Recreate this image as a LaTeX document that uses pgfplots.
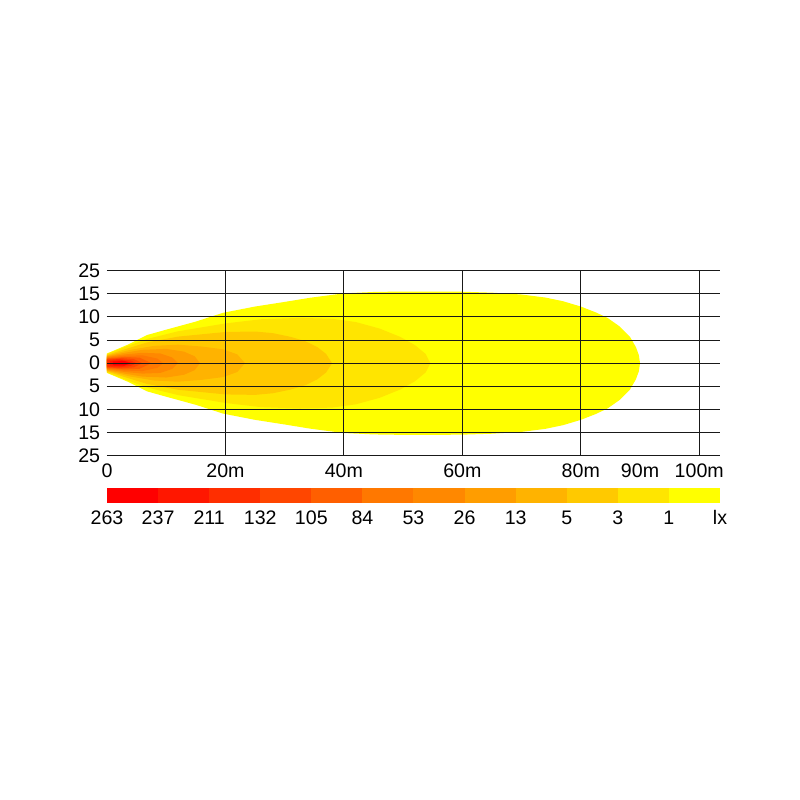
\documentclass[border=0pt]{standalone}
\usepackage{pgfplots}
\pgfplotsset{compat=1.18}
\usepackage{fontspec}
\setmainfont{Liberation Sans}
\definecolor{c1}{HTML}{FF0000}
\definecolor{c2}{HTML}{FF1700}
\definecolor{c3}{HTML}{FF2E00}
\definecolor{c4}{HTML}{FF4600}
\definecolor{c5}{HTML}{FF5F00}
\definecolor{c6}{HTML}{FF7800}
\definecolor{c7}{HTML}{FF8800}
\definecolor{c8}{HTML}{FF9D00}
\definecolor{c9}{HTML}{FFB300}
\definecolor{c10}{HTML}{FFC900}
\definecolor{c11}{HTML}{FFE500}
\definecolor{c12}{HTML}{FFFF00}
\begin{document}
\fontsize{9.8}{11}\selectfont
\begin{tikzpicture}
\path[use as bounding box] (-53.5pt,-172.15pt) rectangle (346.5pt,227.85pt);
\begin{axis}[
  at={(0,0)}, anchor=south west,
  scale only axis, width=306.5pt, height=92.5pt,
  xmin=0, xmax=103.5, ymin=-4, ymax=4,
  axis line style={draw=none},
  major tick length=0pt,
  xtick={20,40,60,80,100},
  xticklabels={20m,40m,60m,80m,100m},
  extra x ticks={0,90},
  extra x tick labels={0,90m},
  extra x tick style={grid=none},
  ytick={-4,...,4},
  yticklabels={25,15,10,5,0,5,10,15,25},
  xmajorgrids, ymajorgrids,
  grid style={black!90, line width=0.55pt},
  axis on top,
  tick label style={font=\fontsize{9.8}{11}\selectfont},
  xticklabel style={text height=7.2pt, text depth=0pt},
  /pgf/number format/assume math mode=true,
]
\addplot[fill=c12, draw=none] coordinates {(0,0.42)(3.5,0.8)(6.8,1.22)(10,1.45)(15,1.8)(19.6,2.18)(25,2.45)(30,2.65)(34.3,2.83)(40,3.02)(45,3.08)(50,3.1)(55,3.1)(60,3.09)(65,3.05)(70,2.97)(74,2.84)(77,2.68)(80,2.45)(82.5,2.2)(84.5,1.96)(86.5,1.6)(88.3,1.14)(89.3,0.7)(89.8,0.35)(90,0)(89.8,-0.35)(89.3,-0.7)(88.3,-1.14)(86.5,-1.6)(84.5,-1.96)(82.5,-2.2)(80,-2.45)(77,-2.68)(74,-2.84)(70,-2.97)(65,-3.05)(60,-3.09)(55,-3.1)(50,-3.1)(45,-3.08)(40,-3.02)(34.3,-2.83)(30,-2.65)(25,-2.45)(19.6,-2.18)(15,-1.8)(10,-1.45)(6.8,-1.22)(3.5,-0.8)(0,-0.42)} -- cycle;
\addplot[fill=c11, draw=none] coordinates {(0,0.4)(3,0.7)(6.8,1.05)(12,1.38)(20,1.72)(26,1.9)(32.6,1.96)(38,1.92)(42,1.78)(46,1.5)(49.5,1.14)(52,0.78)(53.8,0.4)(54.6,0)(53.8,-0.4)(52,-0.78)(49.5,-1.14)(46,-1.5)(42,-1.78)(38,-1.92)(32.6,-1.96)(26,-1.9)(20,-1.72)(12,-1.38)(6.8,-1.05)(3,-0.7)(0,-0.4)} -- cycle;
\addplot[fill=c10, draw=none] coordinates {(0,0.36)(3,0.6)(6.8,0.9)(12,1.15)(20,1.35)(25,1.37)(28,1.3)(31,1.14)(33.5,0.95)(35.5,0.7)(37,0.4)(38,0)(37,-0.4)(35.5,-0.7)(33.5,-0.95)(31,-1.14)(28,-1.3)(25,-1.37)(20,-1.35)(12,-1.15)(6.8,-0.9)(3,-0.6)(0,-0.36)} -- cycle;
\addplot[fill=c9, draw=none] coordinates {(0,0.33)(4,0.58)(8,0.75)(12,0.8)(16,0.72)(19.6,0.6)(22,0.38)(23.3,0)(22,-0.38)(19.6,-0.6)(16,-0.72)(12,-0.8)(8,-0.75)(4,-0.58)(0,-0.33)} -- cycle;
\addplot[fill=c8, draw=none] coordinates {(0,0.3)(3,0.45)(6,0.58)(10,0.62)(13,0.5)(14.8,0.3)(15.7,0)(14.8,-0.3)(13,-0.5)(10,-0.62)(6,-0.58)(3,-0.45)(0,-0.3)} -- cycle;
\addplot[fill=c7, draw=none] coordinates {(0,0.27)(3,0.38)(6,0.45)(9,0.42)(11,0.25)(12,0)(11,-0.25)(9,-0.42)(6,-0.45)(3,-0.38)(0,-0.27)} -- cycle;
\addplot[fill=c6, draw=none] coordinates {(0,0.24)(3,0.32)(6,0.34)(8.5,0.2)(9.5,0)(8.5,-0.2)(6,-0.34)(3,-0.32)(0,-0.24)} -- cycle;
\addplot[fill=c5, draw=none] coordinates {(0,0.21)(3,0.27)(5.5,0.24)(7.5,0)(5.5,-0.24)(3,-0.27)(0,-0.21)} -- cycle;
\addplot[fill=c4, draw=none] coordinates {(0,0.18)(2.5,0.22)(4.5,0.18)(6,0)(4.5,-0.18)(2.5,-0.22)(0,-0.18)} -- cycle;
\addplot[fill=c3, draw=none] coordinates {(0,0.14)(2,0.18)(4,0.12)(5,0)(4,-0.12)(2,-0.18)(0,-0.14)} -- cycle;
\addplot[fill=c2, draw=none] coordinates {(0.5,0.1)(2.5,0.13)(4.5,0)(2.5,-0.13)(0.5,-0.1)} -- cycle;
\addplot[fill=c1, draw=none] coordinates {(1,0.08)(3,0.09)(4,0)(3,-0.09)(1,-0.08)} -- cycle;
\end{axis}
\begin{axis}[
  at={(0,-23.65pt)}, anchor=south west,
  scale only axis, width=306.5pt, height=7.5pt,
  xmin=0, xmax=12, ymin=0, ymax=1,
  axis line style={draw=none},
  major tick length=0pt,
  ytick=\empty,
  xtick={0,...,12},
  xticklabels={263,237,211,132,105,84,53,26,13,5,3,1,lx},
  tick label style={font=\fontsize{9.8}{11}\selectfont},
  xticklabel style={text height=7.2pt, text depth=0pt},
  /pgf/number format/assume math mode=true,
]
\addplot[fill=c1, draw=none] coordinates {(0,0)(1,0)(1,1)(0,1)} -- cycle;
\addplot[fill=c2, draw=none] coordinates {(1,0)(2,0)(2,1)(1,1)} -- cycle;
\addplot[fill=c3, draw=none] coordinates {(2,0)(3,0)(3,1)(2,1)} -- cycle;
\addplot[fill=c4, draw=none] coordinates {(3,0)(4,0)(4,1)(3,1)} -- cycle;
\addplot[fill=c5, draw=none] coordinates {(4,0)(5,0)(5,1)(4,1)} -- cycle;
\addplot[fill=c6, draw=none] coordinates {(5,0)(6,0)(6,1)(5,1)} -- cycle;
\addplot[fill=c7, draw=none] coordinates {(6,0)(7,0)(7,1)(6,1)} -- cycle;
\addplot[fill=c8, draw=none] coordinates {(7,0)(8,0)(8,1)(7,1)} -- cycle;
\addplot[fill=c9, draw=none] coordinates {(8,0)(9,0)(9,1)(8,1)} -- cycle;
\addplot[fill=c10, draw=none] coordinates {(9,0)(10,0)(10,1)(9,1)} -- cycle;
\addplot[fill=c11, draw=none] coordinates {(10,0)(11,0)(11,1)(10,1)} -- cycle;
\addplot[fill=c12, draw=none] coordinates {(11,0)(12,0)(12,1)(11,1)} -- cycle;
\end{axis}
\end{tikzpicture}
\end{document}
